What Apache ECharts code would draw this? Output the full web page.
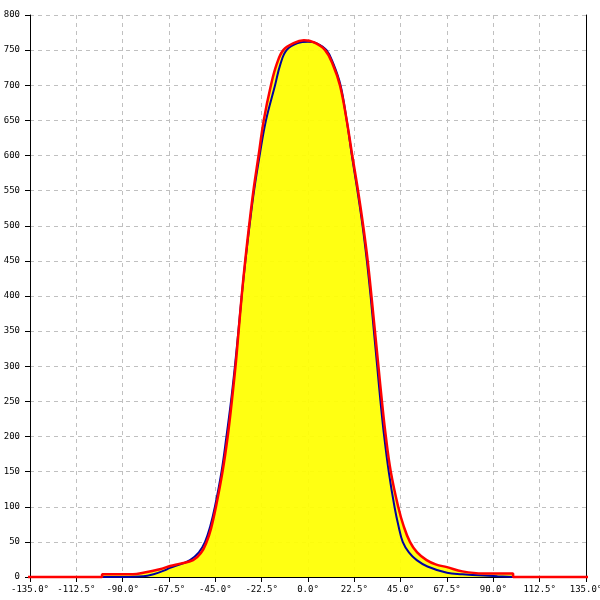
<!DOCTYPE html>
<html>
<head>
<meta charset="utf-8">
<script src="https://cdn.jsdelivr.net/npm/echarts@6/dist/echarts.min.js"></script>
<style>html,body{margin:0;padding:0;background:#fff}#c{width:600px;height:600px}</style>
</head>
<body>
<div id="c"></div>
<script>
// Measured profile (degrees, value)
var blueData = [[-101,0],[-90,0],[-80,1],[-75,4],[-70,9],[-67,13],[-62,18],[-57.3,24],[-53,35],[-50,50],[-47.5,72],[-45.2,100],[-42,150],[-39.6,200],[-37.4,250],[-35.5,300],[-33.8,350],[-32.2,400],[-30.4,450],[-28.4,500],[-26.2,550],[-23.5,600],[-20.4,650],[-16,700],[-13.4,730],[-10.4,750],[-5,760],[0,762],[4,760],[9,750],[12.4,730],[15.8,700],[18.8,650],[21.3,600],[24,550],[26.5,500],[28.6,450],[30.4,400],[32,350],[33.6,300],[35.2,250],[37,200],[39.2,150],[42,100],[44,72],[46,50],[49,35],[52.8,24],[58,15],[67.5,6],[75,4],[85,2],[92,1],[100,0]];
var redData = [[-150,0],[-100,0],[-100,4],[-85,4],[-80,6],[-72,11],[-67,15.7],[-62,19],[-55.8,24],[-52,34],[-49.2,50],[-47,70],[-44.7,100],[-41.5,150],[-39,200],[-37,250],[-35.2,300],[-33.7,350],[-32.2,400],[-30.5,450],[-28.6,500],[-26.5,550],[-24,600],[-21.5,650],[-18,700],[-15.2,730],[-12,750],[-7,760],[-2,764],[3,761],[8.3,750],[12,730],[15.5,700],[18.8,650],[21.5,600],[24.3,550],[26.8,500],[29,450],[30.8,400],[32.5,350],[34.2,300],[35.9,250],[37.8,200],[40.2,150],[43.8,100],[46.5,72],[49.5,50],[53,35],[57.6,24],[62,18],[67.5,14],[75,8],[85,5],[99.6,5],[99.6,0],[142,0]];
var xMin = -135, xMax = 135, xStep = 22.5;
var yMin = 0, yMax = 800, yStep = 50;

var chart = echarts.init(document.getElementById('c'), null, {renderer:'canvas'});
var font = {fontFamily:'DejaVu Sans Mono', fontSize:9, color:'#000'};
chart.setOption({
  animation:false,
  backgroundColor:'#fff',
  grid:{left:30,right:14,top:15,bottom:23,containLabel:false,outerBoundsMode:'none'},
  xAxis:{type:'value',min:xMin,max:xMax,interval:xStep,
    axisLine:{show:true,onZero:false,lineStyle:{color:'#000',width:1}},
    axisTick:{show:true,length:5,lineStyle:{color:'#000'}},
    axisLabel:Object.assign({margin:8,hideOverlap:false,formatter:function(v){return v.toFixed(1)+'°';}},font),
    splitLine:{show:true,lineStyle:{color:'#c0c0c0',type:[4,4],width:1}}},
  yAxis:[{type:'value',min:yMin,max:yMax,interval:yStep,
    axisLine:{show:true,onZero:false,lineStyle:{color:'#000',width:1}},
    axisTick:{show:true,length:5,lineStyle:{color:'#000'}},
    axisLabel:Object.assign({margin:10},font),
    splitLine:{show:true,lineStyle:{color:'#c0c0c0',type:[4,4],width:1}}},
    {type:'value',min:yMin,max:yMax,interval:yStep,position:'right',
    axisLine:{show:true,onZero:false,lineStyle:{color:'#000',width:1}},
    axisTick:{show:false},axisLabel:{show:false},splitLine:{show:false}}],
  series:[
    {type:'line',data:redData,symbol:'none',z:1,smooth:0.4,lineStyle:{width:0},
     areaStyle:{color:'#ffff00',opacity:0.93},clip:true},
    {type:'line',data:blueData,symbol:'none',z:3,smooth:0.4,lineStyle:{color:'#0000a0',width:2}},
    {type:'line',data:redData,symbol:'none',z:4,smooth:0.4,clip:false,lineStyle:{color:'#ff0000',width:2.5}}
  ]
});
</script>
</body>
</html>
